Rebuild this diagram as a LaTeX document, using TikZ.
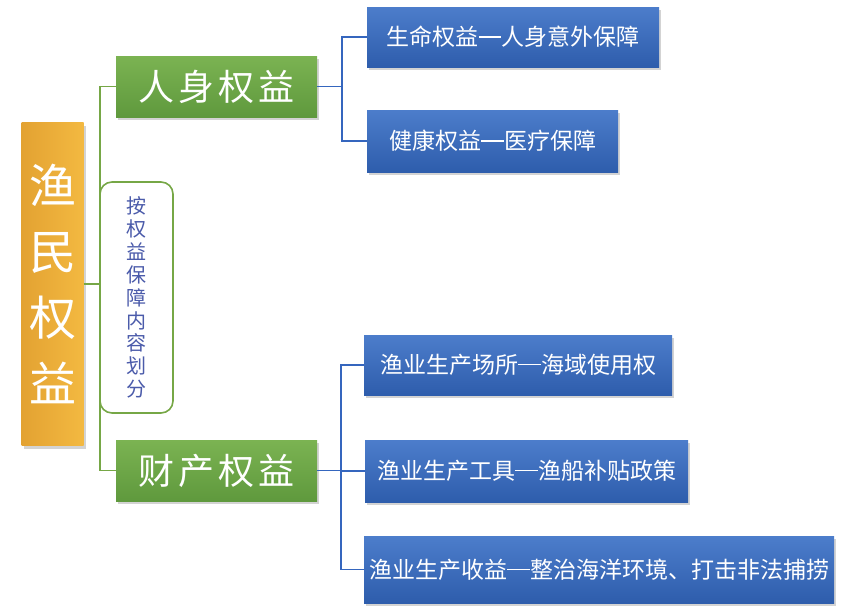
\documentclass[tikz,border=0pt]{standalone}
\usepackage{fontspec}
\setmainfont{Noto Sans CJK SC}
\usetikzlibrary{shadows}
\definecolor{orA}{HTML}{E3A232}
\definecolor{orB}{HTML}{F3B941}
\definecolor{grA}{HTML}{7BB352}
\definecolor{grB}{HTML}{5F993D}
\definecolor{blA}{HTML}{4C7DCB}
\definecolor{blB}{HTML}{2E5DAC}
\definecolor{grLine}{HTML}{76A746}
\definecolor{blLine}{HTML}{3566BE}
\definecolor{ovText}{HTML}{4B5BAA}
\newcommand{\fwdash}{\makebox[1em]{\rule[0.36em]{0.96em}{0.05em}}}
\tikzset{
  shd/.style={drop shadow={opacity=0.35,shadow xshift=2pt,shadow yshift=-3pt}},
  rootbox/.style={shd,left color=orA,right color=orB,draw=none,inner sep=0pt,text=white,align=center,font=\fontsize{47}{66}\selectfont},
  ovalbox/.style={draw=grLine,line width=1.6pt,fill=white,rounded corners=12pt,inner sep=0pt,text=ovText,align=center,font=\fontsize{20}{22.9}\selectfont},
  greenbox/.style={shd,top color=grA,bottom color=grB,draw=none,inner sep=0pt,text=white,font=\fontsize{36}{40}\selectfont},
  bluebox/.style={shd,top color=blA,bottom color=blB,draw=none,inner sep=0pt,text=white,font=\fontsize{23}{26}\selectfont},
  gline/.style={draw=grLine,line width=1.8pt},
  bline/.style={draw=blLine,line width=1.8pt}
}
\begin{document}
\begin{tikzpicture}[x=1pt,y=-1pt]
\useasboundingbox (0,0) rectangle (858,614);
\coordinate (trunk) at (100,0);
\coordinate (bt) at (342,0);
\coordinate (bb) at (341,0);
\node[rootbox,minimum width=62pt,minimum height=323pt] (root) at (52.5,284) {渔\\民\\权\\益};
\node[greenbox,minimum width=201pt,minimum height=61pt] (g1) at (216.5,86.5) {人\hspace{4pt}身\hspace{4pt}权\hspace{4pt}益};
\node[greenbox,minimum width=201pt,minimum height=61pt] (g2) at (216.5,470.5) {财\hspace{4pt}产\hspace{4pt}权\hspace{4pt}益};
\node[bluebox,minimum width=292pt,minimum height=60pt] (b1) at (513,37) {生命权益\fwdash 人身意外保障};
\node[bluebox,minimum width=251pt,minimum height=62pt] (b2) at (492.5,141) {健康权益\fwdash 医疗保障};
\node[bluebox,minimum width=308pt,minimum height=60pt] (b3) at (518,365) {渔业生产场所\fwdash 海域使用权};
\node[bluebox,minimum width=323pt,minimum height=62pt] (b4) at (526.5,471) {渔业生产工具\fwdash 渔船补贴政策};
\node[bluebox,minimum width=470pt,minimum height=67pt] (b5) at (599,569.5) {渔业生产收益\fwdash 整治海洋环境、打击非法捕捞};
% green connectors
\draw[gline] (root.east) -- (root.east -| trunk);
\draw[gline] (g1.west) -- (g1.west -| trunk) -- (g2.west -| trunk) -- (g2.west);
% blue connectors
\draw[bline] (g1.east) -- (g1.east -| bt);
\draw[bline] (b1.west) -- (b1.west -| bt) -- (b2.west -| bt) -- (b2.west);
\draw[bline] (g2.east) -- (g2.east -| bb);
\draw[bline] (b3.west) -- (b3.west -| bb) -- (b5.west -| bb) -- (b5.west);
\draw[bline] (b4.west -| bb) -- (b4.west);
% category box drawn over the trunk
\node[ovalbox,minimum width=73pt,minimum height=231pt] (oval) at (136.5,297.5) {按\\权\\益\\保\\障\\内\\容\\划\\分};
\end{tikzpicture}
\end{document}
